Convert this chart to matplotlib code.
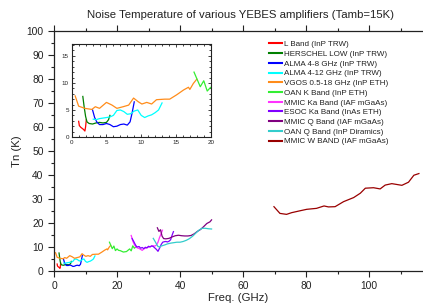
import matplotlib
matplotlib.use("Agg")
import matplotlib.pyplot as plt
from matplotlib.ticker import MultipleLocator

plt.rcParams['font.family'] = ['Liberation Sans', 'DejaVu Sans']

# ---------------- data ----------------
l_band_f = [1.0, 1.1, 1.3, 1.5, 1.7, 1.9, 2.0, 2.1]
l_band_t = [2.9, 2.1, 1.8, 1.6, 1.4, 1.1, 1.9, 3.2]

herschel_f = [1.6, 1.8, 2.0, 2.2, 2.5, 3.0, 3.5, 4.0, 4.5, 5.0, 5.3, 5.5]
herschel_t = [7.5, 5.5, 3.8, 2.8, 2.5, 2.4, 2.6, 2.7, 2.6, 2.7, 3.2, 4.0]

alma48_f = [3.0, 3.3, 3.6, 4.0, 4.5, 5.0, 5.5, 6.0, 6.5, 7.0, 7.5, 8.0, 8.4, 8.7, 9.0]
alma48_t = [5.0, 3.6, 2.8, 2.3, 2.3, 2.5, 2.3, 1.9, 2.0, 2.3, 2.4, 2.2, 2.8, 4.5, 6.5]

alma412_f = [3.1, 3.5, 4.0, 4.5, 5.0, 5.5, 6.0, 6.5, 7.0, 7.5, 8.0, 8.5, 9.0, 9.5,
             10.0, 10.5, 11.0, 11.5, 12.0, 12.5, 13.0]
alma412_t = [3.3, 3.2, 3.4, 3.5, 3.6, 3.7, 4.0, 4.9, 5.0, 4.7, 4.2, 4.3, 4.8, 5.0,
             4.0, 3.6, 3.9, 4.1, 4.5, 5.0, 6.3]

vgos_f = [0.5, 1.0, 1.9, 2.9, 3.4, 4.0, 5.0, 5.8, 6.5, 7.4, 8.2, 8.9, 9.6, 10.1,
          10.8, 11.5, 12.2, 13.4, 14.1, 15.1, 16.1, 16.8, 17.0, 17.5, 18.0]
vgos_t = [7.6, 5.7, 5.3, 5.1, 5.6, 5.3, 6.4, 5.9, 5.3, 5.6, 5.9, 7.2, 6.5, 6.1,
          6.4, 6.1, 6.9, 7.0, 7.0, 7.8, 8.7, 9.2, 8.8, 9.9, 10.7]

oank_f = [17.6, 18.0, 18.5, 19.0, 19.5, 20.0, 20.5, 21.0, 22.0, 23.0, 24.0, 24.5, 25.0, 25.5, 26.0]
oank_t = [12.0, 10.8, 9.3, 10.4, 8.5, 9.2, 8.6, 8.5, 7.9, 8.1, 9.2, 8.4, 10.5, 9.5, 10.0]

mmicka_f = [24.5, 25.0, 25.5, 26.0, 26.5, 27.0, 27.5, 28.0, 28.5, 29.0, 29.5, 30.0,
            30.5, 31.0, 31.5, 32.0, 32.5, 33.0, 33.5, 34.0, 34.4]
mmicka_t = [14.8, 12.5, 11.0, 10.0, 9.6, 9.4, 9.0, 8.6, 9.2, 9.5, 9.8, 10.0,
            10.2, 10.3, 10.5, 10.4, 10.8, 12.0, 14.0, 15.5, 17.0]

esocka_f = [24.8, 25.3, 25.8, 26.3, 27.0, 27.5, 28.0, 28.5, 29.0, 29.5, 30.0, 30.5,
            31.0, 31.5, 32.0, 32.5, 33.0, 33.5, 34.0, 34.5, 35.0, 35.5, 36.0, 36.5,
            37.0, 37.5, 37.9]
esocka_t = [13.5, 12.3, 11.0, 10.0, 10.2, 9.5, 9.8, 9.3, 9.9, 9.6, 10.3, 10.0,
            10.5, 10.2, 9.6, 9.0, 8.2, 9.5, 11.0, 12.0, 12.2, 12.3, 12.1, 12.4,
            13.0, 15.0, 16.4]

mmicq_f = [32.8, 33.3, 33.8, 34.3, 34.8, 35.5, 36.5, 37.5, 38.5, 39.5, 40.5, 41.5,
           42.5, 43.5, 44.5, 45.5, 46.5, 47.5, 48.5, 49.5, 50.0]
mmicq_t = [18.0, 16.5, 17.2, 14.5, 13.5, 13.4, 13.6, 14.2, 14.7, 14.9, 14.7, 14.6,
           14.6, 14.8, 15.5, 16.5, 17.3, 18.5, 19.8, 20.5, 21.3]

oanq_f = [31.5, 32.0, 32.5, 33.0, 33.5, 34.0, 35.0, 36.0, 37.0, 38.0, 39.0, 40.0,
          41.0, 42.0, 43.0, 44.0, 45.0, 46.0, 47.0, 48.0, 49.0, 50.0]
oanq_t = [13.6, 12.5, 11.3, 10.2, 10.0, 10.4, 10.8, 11.3, 11.6, 11.8, 12.0, 12.0,
          12.3, 12.8, 13.5, 14.5, 15.8, 17.0, 17.8, 17.8, 17.6, 17.5]

mmicw_f = [69.8, 71.7, 73.8, 75.4, 78.1, 80.2, 83.3, 85.7, 87.1, 89.2, 91.9, 95.1,
           97.2, 98.8, 101.4, 103.5, 105.1, 107.2, 110.4, 112.5, 114.2, 115.8]
mmicw_t = [26.8, 24.0, 23.6, 24.3, 25.1, 25.7, 26.1, 27.1, 26.7, 26.8, 28.9, 30.6,
           32.4, 34.5, 34.7, 34.2, 35.8, 36.4, 35.7, 37.0, 39.9, 40.6]

labels = ['L Band (InP TRW)', 'HERSCHEL LOW (InP TRW)', 'ALMA 4-8 GHz (InP TRW)',
          'ALMA 4-12 GHz (InP TRW)', 'VGOS 0.5-18 GHz (InP ETH)', 'OAN K Band (InP ETH)',
          'MMIC Ka Band (IAF mGaAs)', 'ESOC Ka Band (InAs ETH)', 'MMIC Q Band (IAF mGaAs)',
          'OAN Q Band (InP Diramics)', 'MMIC W BAND (IAF mGaAs)']
colors = ['#ff0000', '#008000', '#0000ff', '#00ffff', '#ff8c1a', '#33ee33',
          '#ff33ff', '#8000ff', '#800080', '#33cccc', '#990000']
series = [(l_band_f, l_band_t), (herschel_f, herschel_t), (alma48_f, alma48_t),
          (alma412_f, alma412_t), (vgos_f, vgos_t), (oank_f, oank_t),
          (mmicka_f, mmicka_t), (esocka_f, esocka_t), (mmicq_f, mmicq_t),
          (oanq_f, oanq_t), (mmicw_f, mmicw_t)]
inset_count = 6  # first series shown in the inset

# ---------------- figure ----------------
W, H = 423, 306
fig = plt.figure(figsize=(W / 100, H / 100), dpi=100)
tc = '#222222'

ax = fig.add_axes([54 / W, 35 / H, 369 / W, 240 / H])
handles = []
for (f, t), c, lab in zip(series, colors, labels):
    h, = ax.plot(f, t, color=c, lw=0.9, label=lab)
    handles.append(h)
ax.set_xlim(0, 117.1)
ax.set_ylim(0, 100)
ax.xaxis.set_major_locator(MultipleLocator(20))
ax.xaxis.set_minor_locator(MultipleLocator(10))
ax.yaxis.set_major_locator(MultipleLocator(10))
ax.yaxis.set_minor_locator(MultipleLocator(5))
ax.tick_params(which='both', direction='out', top=True, right=False,
               labelsize=7.4, colors=tc, width=0.8)
ax.tick_params(which='major', length=4)
ax.tick_params(which='minor', length=2)
for s in ['left', 'bottom', 'top']:
    ax.spines[s].set_linewidth(0.9)
    ax.spines[s].set_color(tc)
ax.spines['right'].set_visible(False)
ax.set_xlabel('Freq. (GHz)', fontsize=8.2, color=tc, labelpad=1)
ax.set_ylabel('Tn (K)', fontsize=8.2, color=tc, labelpad=2)
ax.yaxis.set_label_coords(-0.088, 0.5)
ax.set_title('Noise Temperature of various YEBES amplifiers (Tamb=15K)',
             fontsize=8.2, color=tc, pad=9, x=0.505)

leg = fig.legend(handles=handles, loc='upper left', bbox_to_anchor=(269 / W, 1 - 40.5 / H),
                 frameon=False, fontsize=5.8, handlelength=1.65, handletextpad=0.25,
                 labelspacing=0.26, borderpad=0, borderaxespad=0)
for txt in leg.get_texts():
    txt.set_color(tc)
for ln in leg.get_lines():
    ln.set_linewidth(1.5)

# ---------------- inset ----------------
ins = fig.add_axes([71.7 / W, (H - 137) / H, 139 / W, 93 / H])
for (f, t), c in list(zip(series, colors))[:inset_count]:
    ins.plot(f, t, color=c, lw=0.9)
ins.set_xlim(0, 20)
ins.set_ylim(0, 17.2)
ins.xaxis.set_major_locator(MultipleLocator(5))
ins.xaxis.set_minor_locator(MultipleLocator(1))
ins.yaxis.set_major_locator(MultipleLocator(5))
ins.yaxis.set_minor_locator(MultipleLocator(1))
ins.tick_params(which='both', direction='in', top=True, right=True,
                labelsize=4.5, colors=tc, width=0.6, pad=2)
ins.tick_params(which='major', length=2.5)
ins.tick_params(which='minor', length=1.2)
for s in ins.spines.values():
    s.set_linewidth(0.8)
    s.set_color(tc)

fig.savefig('out.png', dpi=100)
